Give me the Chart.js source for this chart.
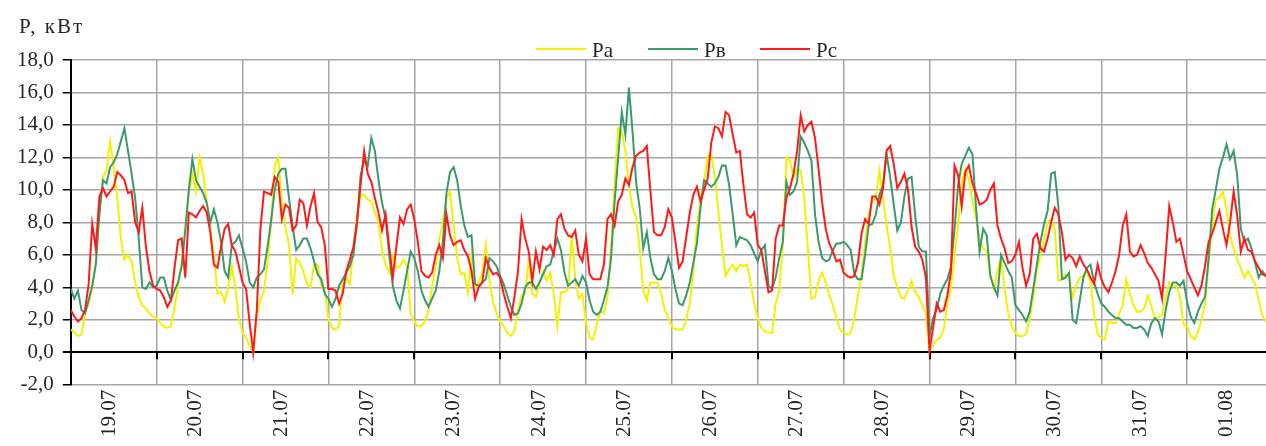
<!DOCTYPE html>
<html>
<head>
<meta charset="utf-8">
<script src="https://cdn.jsdelivr.net/npm/chart.js@4.4.0/dist/chart.umd.min.js"></script>
<style>
  html, body { margin: 0; padding: 0; background: #fff; overflow: hidden; }
</style>
</head>
<body>
<canvas id="graphique" width="1280" height="446"></canvas>
<script>
// Jours (une case par jour, 24 valeurs horaires par jour)
const jours = ['19.07', '20.07', '21.07', '22.07', '23.07', '24.07', '25.07',
               '26.07', '27.07', '28.07', '29.07', '30.07', '31.07', '01.08'];
const pointsParJour = 24;
const yMin = -2, yMax = 18, yPas = 2;
const titreY = 'P, кВт';
const noms = ['Ра', 'Рв', 'Рс'];

// Pa (jaune)
const pa = [
  1.4,1.2,1.0,1.1,2.4,3.0,4.0,5.6,8.5,10.8,11.2,13.0,11.4,9.5,7.0,5.7,6.0,5.6,4.3,3.4,2.9,2.7,2.4,2.2,
  2.1,1.8,1.6,1.5,1.6,2.8,4.0,5.6,7.5,9.8,11.0,9.9,12.0,11.0,9.3,7.6,6.0,3.6,3.7,3.1,4.0,5.3,3.9,2.1,
  1.2,0.9,0.4,0.0,2.3,3.2,3.8,5.5,8.0,11.5,12.0,9.2,7.7,6.6,3.6,5.8,5.5,5.0,4.2,4.0,5.4,5.4,4.1,3.8,
  2.1,1.5,1.4,1.6,4.5,4.6,4.2,6.4,8.4,9.7,9.7,9.4,9.3,8.6,8.0,6.3,5.4,4.9,5.9,5.2,5.3,5.7,5.3,2.4,
  1.9,1.6,1.6,1.9,2.6,4.1,5.3,7.0,8.0,9.5,9.9,7.8,5.8,4.8,4.9,3.7,6.0,4.0,4.3,4.9,6.6,4.5,3.1,2.4,
  1.9,1.6,1.2,1.0,1.3,2.6,3.5,3.6,5.8,3.6,3.4,4.2,5.0,4.4,4.9,3.6,1.6,3.7,3.7,3.9,7.2,4.5,3.3,3.6,
  1.8,0.9,0.8,1.7,2.5,2.4,3.4,6.5,10.5,13.8,13.6,12.4,10.3,8.9,8.3,6.4,3.8,3.2,4.3,4.3,4.3,3.6,2.6,2.1,
  1.6,1.4,1.4,1.4,2.0,3.0,5.0,7.8,9.4,10.5,12.1,12.2,10.8,8.7,6.6,4.7,5.1,5.4,5.0,5.4,5.3,5.4,4.3,3.0,
  2.1,1.5,1.3,1.2,1.2,3.0,3.8,6.5,12.0,11.8,10.7,11.3,11.2,9.5,6.4,3.3,3.4,4.4,4.9,4.3,3.5,2.9,2.1,1.4,
  1.2,1.1,1.2,2.1,3.5,4.8,6.8,8.4,9.3,9.5,11.2,9.5,7.8,6.5,4.7,4.0,3.4,3.3,3.8,4.4,3.7,3.4,2.9,2.4,
  0.1,0.4,0.8,0.9,1.4,3.0,4.0,6.0,7.8,10.5,11.3,10.6,9.3,8.3,7.0,6.4,6.2,4.8,3.9,5.0,5.8,3.9,2.4,1.6,
  1.2,1.0,1.0,1.1,2.1,3.4,5.0,6.0,6.9,8.0,8.2,7.6,4.4,4.5,4.8,4.6,3.4,4.1,4.6,4.7,5.0,4.3,2.3,1.1,
  0.9,0.8,1.9,1.8,1.8,2.4,2.9,4.5,3.6,2.9,2.5,2.5,2.7,3.5,2.9,2.0,2.2,2.3,3.4,4.3,4.1,4.1,3.4,1.7,
  1.6,1.0,0.8,1.2,2.0,3.0,5.4,7.8,9.4,9.5,9.9,8.8,7.2,6.4,5.7,5.2,4.6,5.0,4.6,4.2,3.2,2.3,1.9,1.8
];

// Pв (vert)
const pv = [
  3.9,3.3,3.8,2.6,2.4,3.2,4.1,5.4,8.5,10.6,10.4,11.4,11.7,12.2,13.0,13.8,12.4,11.0,9.5,7.0,4.0,3.9,4.3,4.0,
  4.1,4.6,4.6,3.8,3.2,3.8,4.3,5.3,7.5,10.0,11.9,10.6,10.2,9.8,9.2,8.0,8.8,8.0,6.8,5.0,4.6,6.6,6.8,7.2,
  6.4,5.6,4.3,4.0,4.6,4.8,5.1,6.5,8.1,10.0,11.0,11.3,11.3,9.5,7.8,6.3,6.6,7.0,7.0,6.4,5.6,4.8,4.5,3.6,
  3.3,2.8,3.3,4.1,4.5,4.9,5.3,6.0,8.0,10.9,11.8,11.5,13.2,12.4,10.6,9.2,8.2,6.0,4.1,3.2,2.7,3.8,5.0,6.2,
  5.8,5.0,3.8,3.2,2.8,3.3,3.8,5.0,6.8,9.8,11.1,11.4,10.6,9.0,7.8,7.1,7.2,4.2,4.1,4.3,4.5,5.8,5.6,5.3,
  4.7,4.2,3.5,2.8,2.3,2.4,3.0,4.0,4.3,4.3,3.9,4.3,4.8,5.3,5.4,6.2,7.0,6.3,4.9,4.1,4.3,4.5,4.1,4.7,
  4.3,3.2,2.5,2.3,2.5,3.2,4.0,5.8,9.3,12.0,14.8,13.4,16.3,13.6,10.5,8.9,6.4,7.4,5.8,4.8,4.5,4.5,5.0,5.8,
  5.0,3.9,3.0,2.9,3.5,4.3,5.5,6.7,8.9,10.6,10.4,10.2,10.4,10.8,11.5,11.5,10.3,8.5,6.6,7.1,7.0,6.9,6.6,6.1,
  5.6,6.3,6.6,4.1,3.9,4.6,5.8,6.8,10.5,9.7,9.9,10.5,13.3,12.9,12.4,11.8,8.5,6.8,5.8,5.6,5.7,6.3,6.7,6.7,
  6.8,6.6,6.3,4.8,4.5,4.5,6.0,7.8,7.9,8.5,9.7,10.3,12.2,10.8,9.1,7.5,8.0,9.6,10.7,10.8,8.4,6.5,6.2,6.2,
  1.0,2.1,2.6,3.6,4.1,4.5,5.3,7.6,10.3,11.6,12.1,12.6,12.2,8.9,6.2,7.6,7.2,4.7,4.0,3.5,6.0,5.5,5.0,4.6,
  2.9,2.6,2.3,1.9,2.5,3.9,5.4,6.8,7.9,8.7,11.0,11.1,9.0,4.5,4.6,4.9,2.0,1.8,3.2,4.6,5.2,5.4,4.3,3.6,
  3.0,2.8,2.5,2.3,2.1,2.1,1.9,1.7,1.7,1.5,1.5,1.6,1.4,1.0,1.8,2.1,1.9,1.1,2.6,3.7,4.3,4.3,4.1,4.4,
  3.1,2.2,1.8,2.5,3.0,3.4,5.8,8.8,10.0,11.3,12.0,12.8,11.9,12.4,10.9,7.6,6.8,7.0,6.4,5.5,4.6,5.0,4.7,4.6
];

// Pc (rouge)
const pc = [
  2.6,2.2,1.9,2.1,2.6,4.2,7.9,6.4,9.6,10.1,9.6,9.9,10.2,11.1,10.9,10.6,9.8,9.9,8.0,7.4,8.9,6.5,5.0,4.1,
  3.9,3.8,3.4,2.8,3.2,5.2,6.9,7.0,4.6,8.6,8.5,8.3,8.7,9.0,8.6,7.4,5.4,5.2,6.5,7.6,7.9,6.6,6.2,5.3,
  4.3,3.9,1.8,0.0,2.6,7.6,9.9,9.8,9.7,10.8,10.5,8.2,9.1,8.9,7.5,7.8,9.4,9.2,7.8,9.0,9.8,8.0,7.7,6.6,
  3.9,3.9,3.8,3.0,3.6,5.0,5.7,6.5,8.0,10.3,12.4,11.0,10.5,9.5,8.6,7.5,8.5,6.5,4.6,6.5,8.3,7.9,8.8,9.1,
  8.2,6.8,5.0,4.7,4.6,4.9,6.0,6.6,5.8,8.5,7.2,6.6,6.8,6.9,6.3,5.9,5.0,3.3,4.0,4.3,5.8,5.2,4.8,4.9,
  4.6,3.6,2.8,2.1,3.4,5.0,8.2,7.0,6.2,4.4,6.2,5.1,6.5,6.3,6.6,6.0,8.2,8.5,7.6,7.2,7.1,7.5,6.0,5.6,
  7.0,4.8,4.5,4.5,4.5,5.4,8.2,8.5,7.8,9.3,9.7,10.7,10.3,11.4,12.1,12.3,12.4,12.7,9.9,7.4,7.2,7.2,7.7,8.8,
  8.3,6.8,5.2,5.6,7.1,8.6,9.7,10.2,9.3,10.0,10.7,12.9,13.9,13.8,13.3,14.8,14.6,13.4,12.3,12.4,10.3,8.5,8.3,8.6,
  6.6,6.3,5.0,3.7,3.8,7.0,7.8,7.8,9.5,10.1,11.0,12.4,14.6,13.6,14.0,14.2,13.2,11.3,9.2,7.6,6.7,6.2,5.6,5.7,
  4.9,4.7,4.6,4.7,5.5,7.3,8.2,7.9,9.6,9.6,9.1,10.1,12.4,12.7,11.6,10.1,10.5,11.0,10.0,7.7,6.5,6.2,5.7,4.6,
  0.1,1.5,3.0,2.5,2.6,3.5,5.0,11.5,10.9,9.0,11.1,11.5,10.4,9.8,9.1,9.2,9.4,10.0,10.4,7.8,7.0,6.4,5.5,5.6,
  6.0,6.8,5.2,4.1,4.8,7.0,7.3,6.4,6.2,7.0,8.0,8.9,8.5,7.4,5.7,6.0,5.8,5.3,5.9,5.4,5.1,4.6,4.2,5.4,
  4.5,4.0,3.7,4.3,5.0,6.0,7.8,8.5,6.2,5.9,6.0,6.6,6.1,5.5,5.2,4.8,4.4,3.3,6.0,9.0,8.0,6.8,7.0,6.0,
  5.0,4.5,4.0,3.5,4.1,5.3,6.8,7.3,8.0,8.7,7.6,6.6,8.0,9.9,8.4,6.2,7.0,6.3,6.2,5.6,5.2,4.8,4.7,4.6
];

const police = 'Liberation Serif, Times New Roman, serif';
const couleurTexte = '#262626';
const couleurGrille = '#a6a6a6';

// valeurs horaires -> points {x: jour, y: P}
const enPoints = serie => serie.map((v, i) => ({ x: i / pointsParJour, y: v }));

// titre de l'axe Y, légende et petites graduations sur la ligne du zéro
const decor = {
  id: 'decor',
  beforeDatasetsDraw(chart) {
    const { ctx, scales: { x, y } } = chart;
    const y0 = y.getPixelForValue(0);
    ctx.save();
    ctx.strokeStyle = '#000';
    ctx.lineWidth = 2;
    for (let d = 1; d < jours.length; d++) {
      const px = Math.round(x.getPixelForValue(d));
      ctx.beginPath();
      ctx.moveTo(px, y0);
      ctx.lineTo(px, y0 + 7);
      ctx.stroke();
    }
    ctx.restore();
  },
  afterDraw(chart) {
    const ctx = chart.ctx;
    ctx.save();
    ctx.fillStyle = couleurTexte;
    ctx.font = '21px ' + police;
    ctx.letterSpacing = '2px';
    ctx.textBaseline = 'alphabetic';
    ctx.fillText(titreY, 19, 33);
    ctx.letterSpacing = '0px';
    // légende
    ctx.font = '21px ' + police;
    chart.data.datasets.forEach((ds, i) => {
      const lx = 536 + i * 112;
      ctx.strokeStyle = ds.borderColor;
      ctx.lineWidth = 2;
      ctx.beginPath();
      ctx.moveTo(lx, 49);
      ctx.lineTo(lx + 50, 49);
      ctx.stroke();
      ctx.fillText(ds.label, lx + 56, 57);
    });
    ctx.restore();
  }
};

const ctx = document.getElementById('graphique').getContext('2d');
new Chart(ctx, {
  type: 'line',
  data: {
    datasets: [
      { label: noms[0], data: enPoints(pa), borderColor: '#f2f200', order: 3 },
      { label: noms[1], data: enPoints(pv), borderColor: '#3b9a6b', order: 2 },
      { label: noms[2], data: enPoints(pc), borderColor: '#ff1a1a', order: 1 }
    ]
  },
  options: {
    responsive: false,
    animation: false,
    events: [],
    layout: { padding: { left: 8, right: 7, top: 60, bottom: 4 } },
    elements: {
      line: { borderWidth: 2, tension: 0 },
      point: { radius: 0 }
    },
    scales: {
      x: {
        type: 'linear',
        display: false,
        min: 0,
        max: jours.length
      },
      xJours: {
        type: 'category',
        labels: jours,
        position: 'bottom',
        offset: true,
        grid: { offset: true, color: couleurGrille, lineWidth: 1.5, drawTicks: false },
        border: { display: false },
        ticks: {
          autoSkip: false,
          minRotation: 90,
          maxRotation: 90,
          padding: 5,
          labelOffset: -4,
          color: couleurTexte,
          font: { family: police, size: 21 }
        }
      },
      y: {
        min: yMin,
        max: yMax,
        ticks: {
          stepSize: yPas,
          padding: 9,
          color: couleurTexte,
          font: { family: police, size: 21 },
          callback: v => v.toFixed(1).replace('.', ',')
        },
        grid: {
          color: c => (c.tick && c.tick.value === 0 ? '#000' : couleurGrille),
          lineWidth: c => (c.tick && c.tick.value === 0 ? 2 : 1.5),
          tickColor: '#000',
          tickLength: 8
        },
        border: { display: true, color: '#000', width: 2 }
      }
    },
    plugins: {
      legend: { display: false },
      tooltip: { enabled: false }
    }
  },
  plugins: [decor]
});
</script>
</body>
</html>
